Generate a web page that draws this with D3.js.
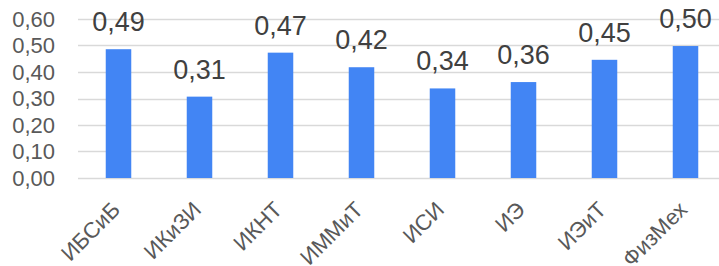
<!DOCTYPE html>
<html>
<head>
<meta charset="utf-8">
<script src="https://cdn.jsdelivr.net/npm/d3@7"></script>
<style>
  html, body { margin: 0; padding: 0; background: #fff; }
  #chart { width: 719px; height: 266px; overflow: hidden; }
  text { font-family: Arial, "Liberation Sans", sans-serif; }
</style>
</head>
<body>
<div id="chart"></div>
<script>

var categories = ["ИБСиБ", "ИКиЗИ", "ИКНТ", "ИММиТ", "ИСИ", "ИЭ", "ИЭиТ", "ФизМех"];
var values = [0.486, 0.307, 0.473, 0.418, 0.338, 0.362, 0.446, 0.498];
var yTicks = [0, 0.1, 0.2, 0.3, 0.4, 0.5, 0.6];

var width = 719,
    height = 266;

var margin = {top: 19, left: 78, bottom: 88};

var svg = d3.select("#chart").append("svg")
  .attr("width", width)
  .attr("height", height);

var fmt = function(v) { return d3.format(".2f")(v).replace(".", ","); };

var xScale = d3.scaleBand()
  .domain(categories)
  .range([margin.left, margin.left + 648])
  .paddingInner(0.685)
  .paddingOuter(0.3425);

var yScale = d3.scaleLinear()
  .domain([0, 0.6])
  .range([height - margin.bottom, margin.top]);

// gridlines
svg.append("g")
  .selectAll("line")
  .data(yTicks)
  .enter().append("line")
  .attr("x1", margin.left)
  .attr("x2", width)
  .attr("y1", d => Math.round(yScale(d)) + 0.5)
  .attr("y2", d => Math.round(yScale(d)) + 0.5)
  .attr("stroke", "#d9d9d9")
  .attr("stroke-width", 1.5);

// y axis labels
var yAxis = d3.axisLeft(yScale)
  .tickValues(yTicks)
  .tickFormat(fmt)
  .tickSize(0)
  .tickPadding(0);

svg.append("g")
  .attr("transform", "translate(55,0)")
  .call(yAxis)
  .call(g => g.select(".domain").remove())
  .selectAll("text")
  .attr("font-size", "22px")
  .attr("fill", "#595959")
  .attr("font-family", "Arial, 'Liberation Sans', sans-serif");

// bars
svg.append("g")
  .selectAll("rect")
  .data(values)
  .enter().append("rect")
  .attr("x", (d, i) => xScale(categories[i]))
  .attr("y", d => yScale(d))
  .attr("width", xScale.bandwidth())
  .attr("height", d => yScale(0) - yScale(d))
  .attr("fill", "#4285f4");

// value labels
svg.append("g")
  .selectAll("text")
  .data(values)
  .enter().append("text")
  .attr("x", (d, i) => xScale(categories[i]) + xScale.bandwidth() / 2)
  .attr("y", d => yScale(d) - 18)
  .attr("text-anchor", "middle")
  .attr("font-size", "27px")
  .attr("fill", "#404040")
  .text(fmt);

// x labels, rotated
svg.append("g")
  .selectAll("text")
  .data(categories)
  .enter().append("text")
  .attr("transform", d => "translate(" + (xScale(d) + xScale.bandwidth() / 2 + 3) + "," + 211 + ") rotate(-45)")
  .attr("text-anchor", "end")
  .attr("font-size", "22px")
  .attr("fill", "#595959")
  .text(d => d);

</script>
</body>
</html>
